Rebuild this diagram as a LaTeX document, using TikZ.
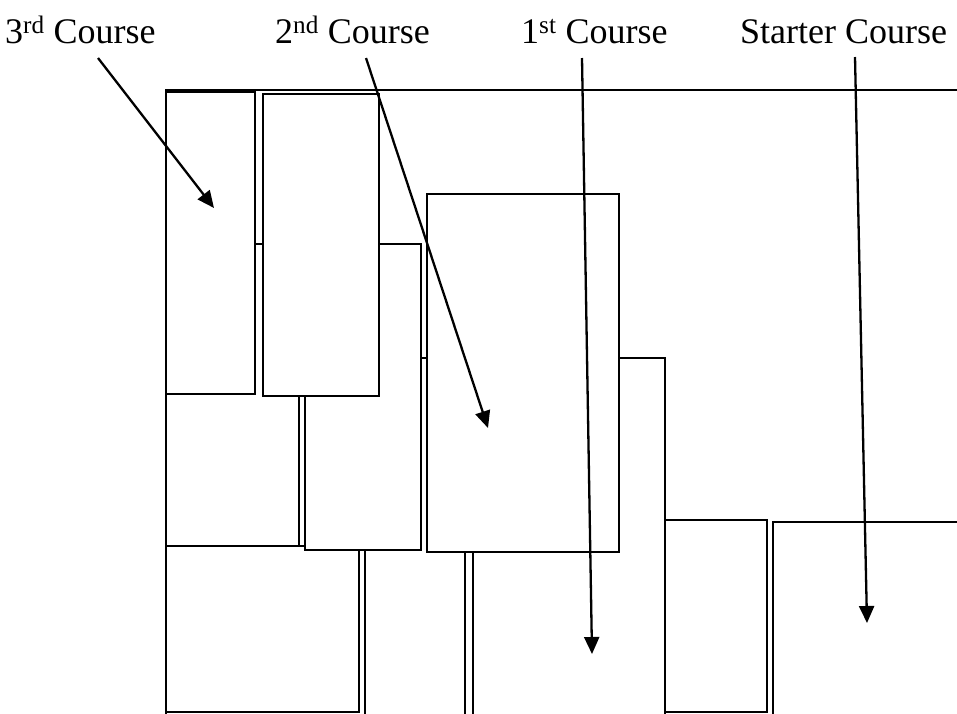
\documentclass[tikz,border=0pt]{standalone}
\usepackage{fontspec}
\setmainfont{Liberation Serif}
\usetikzlibrary{arrows.meta}
\begin{document}
\begin{tikzpicture}[x=1pt,y=-1pt,
  brick/.style={draw=black,fill=white,line width=2.2pt},
  edge/.style={draw=black,line width=2.2pt},
  lbl/.style={inner sep=0pt,anchor=base west,font=\fontsize{36}{40}\selectfont},
  pointer/.style={draw=black,line width=2.3pt,-{Triangle[length=17pt,width=15pt]}}]
\useasboundingbox (0,0) rectangle (957,713);
\clip (0,0) rectangle (957,713);
% labels
\node[lbl] (l3) at (5,43) {3\textsuperscript{rd} Course};
\node[lbl] (l2) at (275,43) {2\textsuperscript{nd} Course};
\node[lbl] (l1) at (521,43) {1\textsuperscript{st} Course};
\node[lbl] (ls) at (740,43) {Starter Course};
% background large slab
\draw[edge] (962,90) -- (166,90) -- (166,716);
% starter course
\draw[brick] (773,522) rectangle (965,720);
\draw[brick] (665,520) rectangle (767,712);
% 1st course
\draw[brick] (166,546) rectangle (359,712);
\draw[brick] (365,358) rectangle (465,720);
\draw[brick] (473,358) rectangle (665,720);
% 2nd course
\draw[brick] (166,244) rectangle (299,546);
\draw[brick] (305,244) rectangle (421,550);
\draw[brick] (427,194) rectangle (619,552);
% 3rd course
\draw[brick] (166,92) rectangle (255,394);
\draw[brick] (263,94) rectangle (379,396);
% arrows
\coordinate (s3) at (98,58);  \coordinate (t3) at (214,208);
\coordinate (s2) at (366,58); \coordinate (t2) at (488,428);
\coordinate (s1) at (582,58); \coordinate (t1) at (592,654);
\coordinate (ss) at (855,57); \coordinate (ts) at (867,623);
\draw[pointer] (s3) -- (t3);
\draw[pointer] (s2) -- (t2);
\draw[pointer] (s1) -- (t1);
\draw[pointer] (ss) -- (ts);
\end{tikzpicture}
\end{document}
